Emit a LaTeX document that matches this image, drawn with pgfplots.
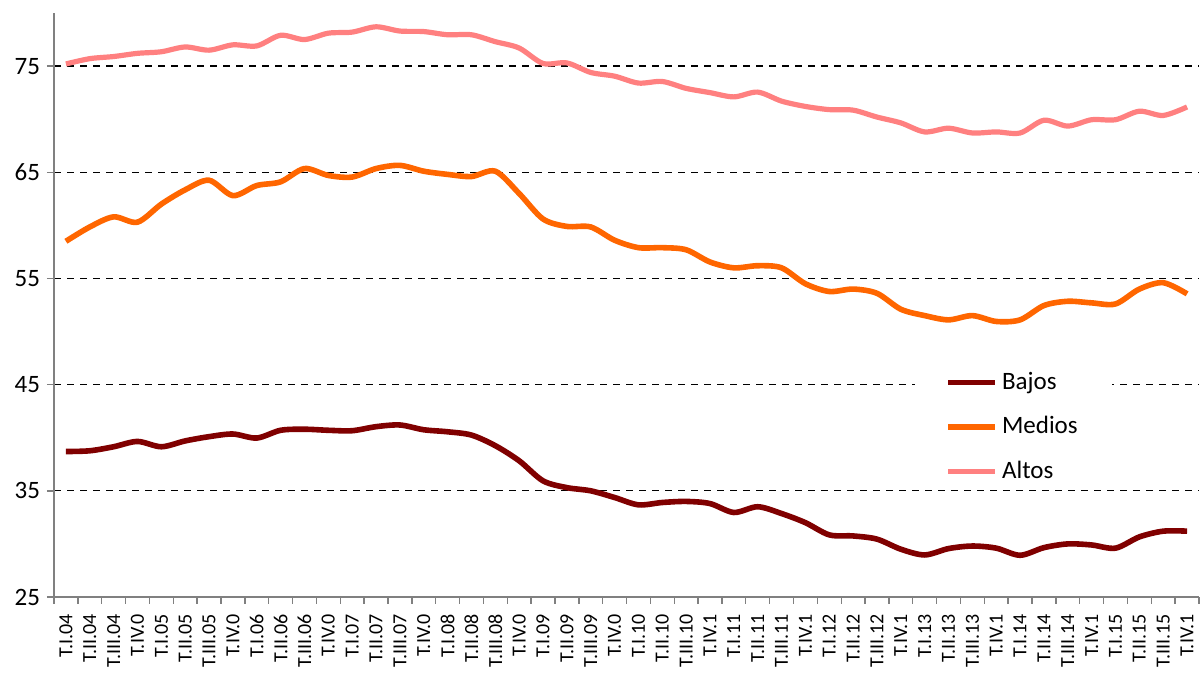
\documentclass[border=0pt]{standalone}
\usepackage{pgfplots}
\pgfplotsset{compat=1.18}
\usepackage{pgfplotstable}
\usepackage{fontspec}
\setmainfont{Carlito}
\definecolor{bajos}{HTML}{800000}
\definecolor{medios}{HTML}{FF6600}
\definecolor{altos}{HTML}{FF8080}
\definecolor{axgray}{HTML}{808080}

\pgfplotstableread{
i bajos medios altos
0 38.7 58.5 75.2
1 38.77 59.85 75.7
2 39.15 60.8 75.9
3 39.65 60.3 76.2
4 39.15 62.0 76.35
5 39.7 63.35 76.8
6 40.1 64.25 76.5
7 40.35 62.8 77.0
8 39.97 63.75 76.9
9 40.7 64.1 77.9
10 40.8 65.35 77.5
11 40.7 64.7 78.1
12 40.66 64.55 78.2
13 41.04 65.35 78.7
14 41.2 65.65 78.3
15 40.75 65.1 78.25
16 40.56 64.8 77.95
17 40.25 64.6 77.95
18 39.25 65.1 77.3
19 37.83 63.0 76.7
20 35.94 60.6 75.25
21 35.3 59.9 75.3
22 35.0 59.85 74.4
23 34.37 58.6 74.05
24 33.68 57.9 73.4
25 33.9 57.9 73.55
26 34.0 57.7 72.9
27 33.8 56.55 72.5
28 32.96 56.0 72.1
29 33.5 56.2 72.55
30 32.86 56.0 71.7
31 32.0 54.5 71.2
32 30.85 53.77 70.9
33 30.75 54.0 70.85
34 30.45 53.6 70.2
35 29.5 52.1 69.65
36 28.96 51.5 68.8
37 29.56 51.1 69.15
38 29.8 51.5 68.7
39 29.6 50.95 68.8
40 28.93 51.1 68.7
41 29.65 52.45 69.9
42 30.0 52.85 69.35
43 29.9 52.7 69.95
44 29.6 52.6 69.95
45 30.66 54.0 70.75
46 31.2 54.6 70.35
47 31.2 53.55 71.15
}\datatable

\begin{document}
\begin{tikzpicture}
\begin{axis}[
  name=ax,
  scale only axis,
  width=572.5pt, height=292pt,
  xmin=-0.5, xmax=47.5,
  ymin=25, ymax=80,
  axis x line=bottom, axis y line=left,
  axis line style={draw=axgray, line width=0.7pt, -},
  xtick={0,...,47},
  xticklabels={T.I.04,T.II.04,T.III.04,T.IV.0,T.I.05,T.II.05,T.III.05,T.IV.0,T.I.06,T.II.06,T.III.06,T.IV.0,T.I.07,T.II.07,T.III.07,T.IV.0,T.I.08,T.II.08,T.III.08,T.IV.0,T.I.09,T.II.09,T.III.09,T.IV.0,T.I.10,T.II.10,T.III.10,T.IV.1,T.I.11,T.II.11,T.III.11,T.IV.1,T.I.12,T.II.12,T.III.12,T.IV.1,T.I.13,T.II.13,T.III.13,T.IV.1,T.I.14,T.II.14,T.III.14,T.IV.1,T.I.15,T.II.15,T.III.15,T.IV.1},
  major x tick style={draw=none},
  minor xtick={-0.5,0.5,...,47.5},
  minor x tick style={draw=axgray, line width=0.7pt},
  minor tick length=3.5pt,
  ytick={25,35,45,55,65,75},
  major y tick style={draw=axgray, line width=0.7pt},
  major tick length=3.5pt,
  tick align=outside,
  tick pos=left,
  ymajorgrids,
  grid style={black, line width=0.6pt, dash pattern=on 3.5pt off 3pt},
  xticklabel style={rotate=90, anchor=east, font=\fontsize{10}{11}\selectfont, inner sep=0pt},
  xticklabel shift=5pt,
  yticklabel style={font=\fontsize{12.5}{13}\selectfont},
  /pgf/number format/assume math mode=true,
  legend style={at={(0.752,0.399)}, anchor=north west, draw=none, fill=white,
    inner xsep=15pt, inner ysep=2pt, row sep=8pt,
    font=\fontsize{12.5}{13}\selectfont},
  legend cell align=left,
  legend image code/.code={\draw[#1] (0pt,0pt) -- (23.5pt,0pt);},
]
\addplot[bajos, line width=2.8pt, smooth, tension=0.5] table[x=i, y=bajos] {\datatable};
\addlegendentry{Bajos}
\addplot[medios, line width=2.8pt, smooth, tension=0.5] table[x=i, y=medios] {\datatable};
\addlegendentry{Medios}
\addplot[altos, line width=2.6pt, smooth, tension=0.5] table[x=i, y=altos] {\datatable};
\addlegendentry{Altos}
\end{axis}
\pgfresetboundingbox
\path ([xshift=-27pt,yshift=-40pt]ax.south west) rectangle ([xshift=1pt,yshift=6.5pt]ax.north east);
\end{tikzpicture}
\end{document}
